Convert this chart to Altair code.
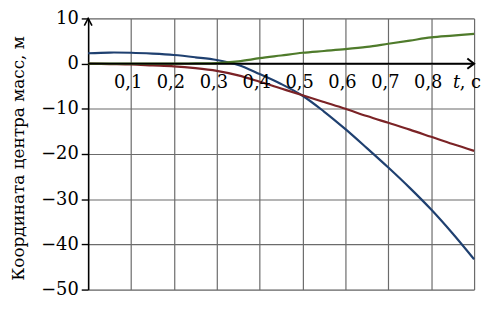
import altair as alt
import pandas as pd

# ---- data ----
t = [0, 0.05, 0.1, 0.15, 0.2, 0.25, 0.3, 0.35, 0.4, 0.45, 0.5, 0.55, 0.6, 0.65, 0.7, 0.75, 0.8, 0.85, 0.9]
blue = [2.3, 2.45, 2.4, 2.2, 1.9, 1.4, 0.8, -0.3, -2.3, -4.5, -7.1, -10.6, -14.5, -18.7, -23.0, -27.5, -32.3, -37.6, -43.3]
red = [0, -0.1, -0.2, -0.4, -0.6, -1.0, -1.6, -2.6, -4.0, -5.5, -7.0, -8.5, -10.0, -11.6, -13.1, -14.6, -16.2, -17.8, -19.3]
green = [0, 0, 0, 0, 0, 0.05, 0.1, 0.5, 1.2, 1.8, 2.4, 2.8, 3.2, 3.7, 4.4, 5.1, 5.8, 6.2, 6.6]

series_names = ["green", "red", "blue"]
series_colors = ["#4f7b2b", "#7b2326", "#1f4070"]

x_ticks = [0.1, 0.2, 0.3, 0.4, 0.5, 0.6, 0.7, 0.8]
x_tick_labels = ["0,1", "0,2", "0,3", "0,4", "0,5", "0,6", "0,7", "0,8"]
x_grid = [0.1, 0.2, 0.3, 0.4, 0.5, 0.6, 0.7, 0.8, 0.9]
y_ticks = [10, 0, -10, -20, -30, -40, -50]

y_title = "Координата центра масс, м"
FONT = "DejaVu Serif"

rows = []
for name, vals in zip(["blue", "red", "green"], [blue, red, green]):
    for ti, v in zip(t, vals):
        rows.append({"t": ti, "x": v, "s": name})
df = pd.DataFrame(rows)

xs = alt.Scale(domain=[0, 0.9], nice=False, zero=False)
ys = alt.Scale(domain=[-50, 10], nice=False, zero=False)

# grid frame + y axis
frame = alt.Chart(df).mark_line(opacity=0).encode(
    x=alt.X("t:Q", scale=xs,
            axis=alt.Axis(values=x_grid, grid=True, gridColor="#6b6b6b", gridWidth=1.2,
                          labels=False, ticks=False, domain=False, title=None)),
    y=alt.Y("x:Q", scale=ys,
            axis=alt.Axis(values=y_ticks, grid=True, gridColor="#6b6b6b", gridWidth=1.2,
                          domain=True, domainColor="black", domainWidth=1.6,
                          ticks=True, tickColor="black", tickWidth=1.4, tickSize=7,
                          labelFont=FONT, labelFontSize=18, labelColor="black", labelPadding=3,
                          labelExpr="replace(datum.label, '-', '\u2212')",
                          title=y_title, titleFont=FONT, titleFontSize=17, titleFontWeight="normal",
                          titleColor="black", titleAngle=270, titleX=-70, titleY=141,
                          titleAlign="center", titleBaseline="middle")),
)

lines = alt.Chart(df).mark_line(strokeWidth=2.2, interpolate="catmull-rom").encode(
    x=alt.X("t:Q", scale=xs),
    y=alt.Y("x:Q", scale=ys),
    color=alt.Color("s:N", scale=alt.Scale(domain=series_names, range=series_colors), legend=None),
    order=alt.Order("t:Q"),
)

xaxis_line = alt.Chart().mark_rule(color="black", strokeWidth=2).encode(
    x=alt.datum(0, scale=xs), x2=alt.datum(0.9), y=alt.datum(0, scale=ys)
)

x_arrow = alt.Chart().mark_point(shape="M-1.3,-1L0,0L-1.3,1", size=110, filled=False,
                                  stroke="black", strokeWidth=2, opacity=1).encode(
    x=alt.datum(0.9, scale=xs), y=alt.datum(0, scale=ys)
)
y_arrow = alt.Chart().mark_point(shape="M-1,1.9L0,0L1,1.9", size=60, filled=False,
                                  stroke="black", strokeWidth=1.6, opacity=1).encode(
    x=alt.datum(0, scale=xs), y=alt.datum(10, scale=ys)
)

lab_df = pd.DataFrame({"t": x_ticks, "lab": x_tick_labels})
x_labels = alt.Chart(lab_df).mark_text(font=FONT, fontSize=18, color="black", align="center",
                                       baseline="alphabetic", dx=-3, dy=25).encode(
    x=alt.X("t:Q", scale=xs), y=alt.datum(0, scale=ys), text="lab:N"
)
t_label = alt.Chart().mark_text(font=FONT, fontSize=18, fontStyle="italic", color="black",
                                align="right", baseline="alphabetic", dx=-14, dy=25).encode(
    x=alt.datum(0.9, scale=xs), y=alt.datum(0, scale=ys), text=alt.value("t")
)
unit_label = alt.Chart().mark_text(font=FONT, fontSize=18, color="black",
                                   align="right", baseline="alphabetic", dx=7, dy=25).encode(
    x=alt.datum(0.9, scale=xs), y=alt.datum(0, scale=ys), text=alt.value(", с")
)

chart = alt.layer(frame, lines, xaxis_line, x_arrow, y_arrow, x_labels, t_label, unit_label).properties(
    width=390, height=274,
    autosize=alt.AutoSizeParams(type="none"),
    padding={"left": 81, "top": 9, "right": 8, "bottom": 10},
).configure_view(strokeWidth=0).configure(background="white")

chart.save("out.html", embed_options={"renderer": "svg", "actions": False})
